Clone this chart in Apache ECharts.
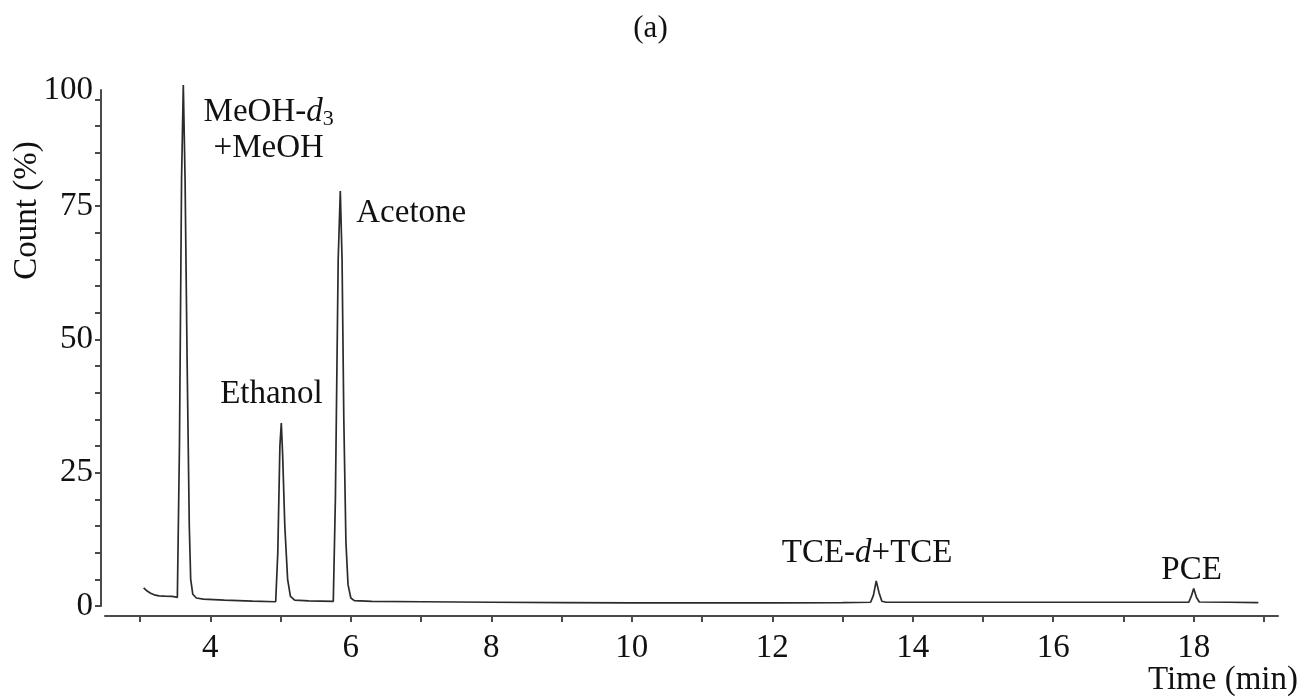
<!DOCTYPE html>
<html>
<head>
<meta charset="utf-8">
<title>Chromatogram (a)</title>
<script src="https://cdn.jsdelivr.net/npm/echarts@6/dist/echarts.min.js"></script>
<style>
  html, body { margin: 0; padding: 0; background: #fff; }
  #chart { width: 1301px; height: 699px; }
</style>
</head>
<body>
<div id="chart"></div>
<script>
// retention time (min) and relative count (%)
var times = [
  3.05, 3.10, 3.15, 3.20, 3.27, 3.35, 3.45, 3.50, 3.53, 3.56, 3.59, 3.615, 3.64, 3.67, 3.70, 3.72, 3.75, 3.80, 3.90,
  4.20, 4.60, 4.93, 4.96, 4.99, 5.01, 5.03, 5.06, 5.10, 5.14, 5.20, 5.40, 5.75,
  5.78, 5.82, 5.85, 5.875, 5.90, 5.93, 5.96, 6.00, 6.05, 6.30,
  7, 8, 9, 10, 11, 12, 13, 13.40, 13.44, 13.48, 13.52, 13.56, 13.62,
  14, 15, 16, 17, 17.93, 17.97, 18.00, 18.04, 18.08, 18.5, 18.92
];
var counts = [
  3.4, 2.8, 2.4, 2.1, 1.9, 1.85, 1.8, 1.7, 1.6, 30, 80, 97.7, 80, 45, 15, 5, 2.2, 1.5, 1.3,
  1.1, 0.9, 0.8, 10, 30, 34.3, 28, 15, 5, 1.8, 1.1, 0.95, 0.85,
  20, 65, 77.8, 65, 35, 12, 4, 1.5, 1.0, 0.85,
  0.8, 0.7, 0.65, 0.6, 0.6, 0.6, 0.65, 0.7, 2.0, 4.7, 2.5, 0.9, 0.7,
  0.7, 0.7, 0.7, 0.7, 0.7, 2.0, 3.3, 1.6, 0.75, 0.7, 0.65
];

// axes
var xTicks = [3, 4, 5, 6, 7, 8, 9, 10, 11, 12, 13, 14, 15, 16, 17, 18, 19];
var xLabels = [4, 6, 8, 10, 12, 14, 16, 18];
var yTicks = [0, 5, 10, 15, 20, 25, 30, 35, 40, 45, 50, 55, 60, 65, 70, 75, 80, 85, 90, 95];
var yLabels = [0, 25, 50, 75, 100];

// peak annotations (text, time, count)
var peakNames = ['{n|MeOH-}{i|d}{s|3}\n{n|+MeOH}', '{n|Ethanol}', '{n|Acetone}', '{n|TCE-}{i|d}{n|+TCE}', '{n|PCE}'];
var peakX = [4.83, 4.87, 6.86, 13.35, 17.97];
var peakY = [89.2, 39.6, 73.7, 9.9, 6.6];

var xMin = 2.5, xMax = 19.2, yMin = 0, yMax = 96.75;
var font = 'Liberation Serif';
var axisColor = '#4a4a4a';
var textColor = '#111';

var chart = echarts.init(document.getElementById('chart'));
chart.setOption({
  animation: false,
  backgroundColor: '#fff',
  title: {
    text: '(a)',
    left: 'center',
    top: 8,
    textStyle: { fontFamily: font, fontSize: 31, fontWeight: 'normal', color: textColor }
  },
  grid: { left: 105, right: 23, top: 90, bottom: 93, outerBoundsMode: 'none' },
  xAxis: {
    type: 'value',
    min: xMin,
    max: xMax,
    offset: 10,
    splitLine: { show: false },
    axisLine: { onZero: false, lineStyle: { color: axisColor, width: 2 } },
    axisTick: { customValues: xTicks, length: 6, lineStyle: { color: axisColor, width: 2 } },
    axisLabel: {
      customValues: xLabels,
      margin: 16,
      fontFamily: font, fontSize: 33, color: textColor
    },
    name: 'Time (min)',
    nameLocation: 'end',
    nameGap: 20,
    nameMoveOverlap: false,
    nameTextStyle: {
      fontFamily: font, fontSize: 33, color: textColor,
      align: 'right', verticalAlign: 'top', padding: [48, 0, 0, 0]
    }
  },
  yAxis: {
    type: 'value',
    min: yMin,
    max: yMax,
    offset: 4,
    splitLine: { show: false },
    axisLine: { show: true, onZero: false, lineStyle: { color: axisColor, width: 2 } },
    axisTick: { show: true, customValues: yTicks, length: 6, lineStyle: { color: axisColor, width: 2 } },
    axisLabel: {
      customValues: yLabels.map(function (v) { return Math.min(v, yMax); }),
      formatter: function (v) { return v >= yMax ? String(yLabels[yLabels.length - 1]) : String(v); },
      margin: 8,
      fontFamily: font, fontSize: 33, color: textColor
    },
    name: 'Count (%)',
    nameLocation: 'middle',
    nameRotate: 90,
    nameGap: 74,
    nameMoveOverlap: false,
    nameTextStyle: {
      fontFamily: font, fontSize: 33, color: textColor,
      align: 'center', verticalAlign: 'middle', padding: [0, 0, 0, 275]
    }
  },
  series: [
    {
      type: 'line',
      data: times.map(function (t, i) { return [t, counts[i]]; }),
      showSymbol: false,
      clip: false,
      lineStyle: { color: '#2b2b2b', width: 1.7 },
      silent: true
    },
    {
      type: 'scatter',
      data: peakX.map(function (x, i) { return { value: [x, peakY[i]], name: peakNames[i] }; }),
      symbolSize: 0,
      silent: true,
      itemStyle: { color: '#fff', opacity: 1 },
      label: {
        show: true,
        position: 'inside',
        color: textColor,
        opacity: 1,
        textBorderWidth: 0,
        formatter: function (p) { return p.name; },
        rich: {
          n: { fontFamily: font, fontSize: 33, color: textColor, lineHeight: 36, textBorderWidth: 0 },
          i: { fontFamily: font, fontSize: 33, color: textColor, fontStyle: 'italic', lineHeight: 36, textBorderWidth: 0 },
          s: { fontFamily: font, fontSize: 22, color: textColor, lineHeight: 26, verticalAlign: 'bottom', textBorderWidth: 0 }
        }
      }
    }
  ]
});
</script>
</body>
</html>
